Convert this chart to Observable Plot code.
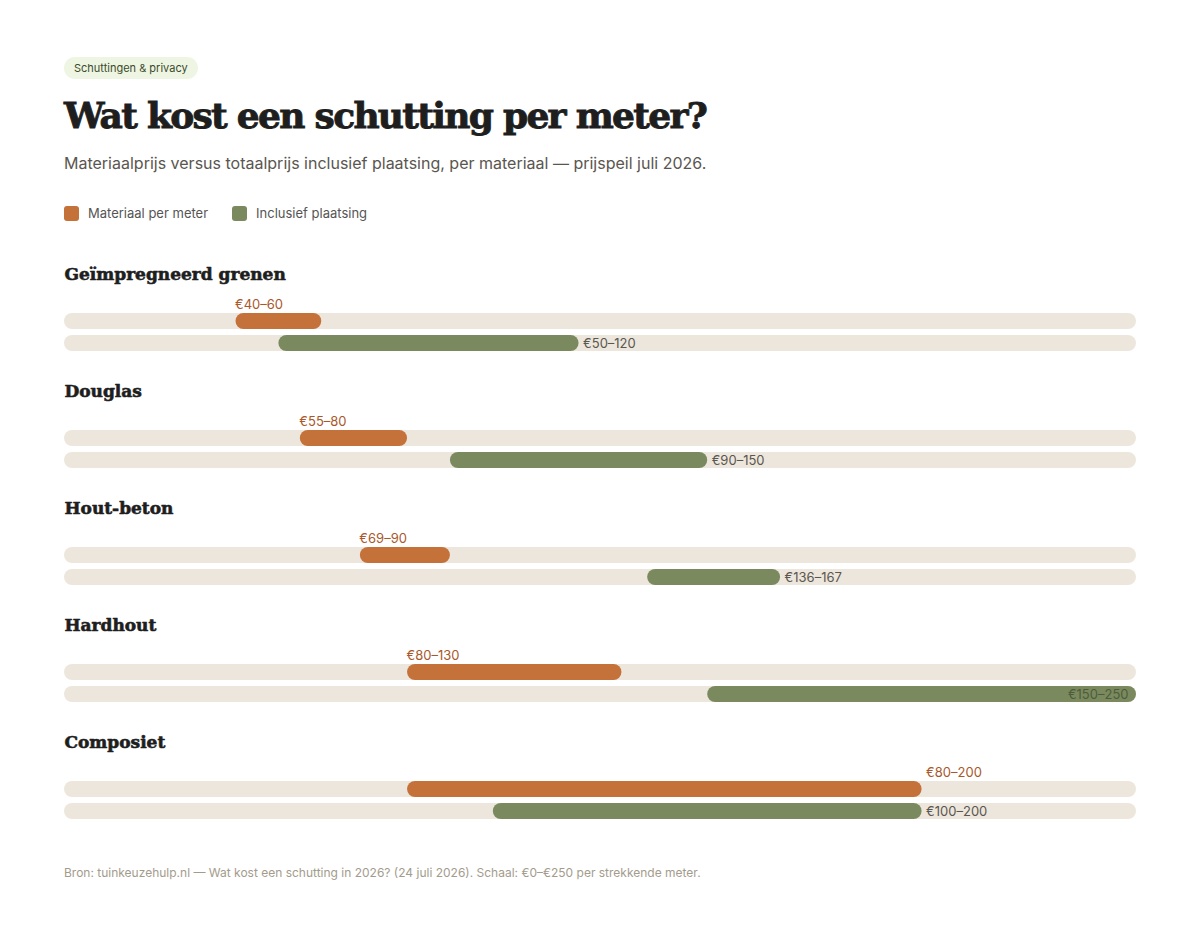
<!DOCTYPE html>
<html><head><meta charset="utf-8">
<script src="https://cdn.jsdelivr.net/npm/d3@7"></script>
<script src="https://cdn.jsdelivr.net/npm/@observablehq/plot@0.6"></script>
<style>
  html,body{margin:0;background:#fff;}
  body{font-family:Inter,"Noto Sans",sans-serif;color:#1e1e1e;width:1200px;}
  .head{padding:56px 64px 0 64px;}
  .pill{display:inline-block;background:#eef6e3;color:#3b4a2c;font-size:11px;line-height:22px;padding:0 10px;border-radius:11px;}
  h1{font-family:"DejaVu Serif",serif;font-weight:bold;font-size:36px;letter-spacing:-1.7px;margin:14px 0 0 0;line-height:44px;color:#1e1e1e;-webkit-text-stroke:0.9px #1e1e1e;}
  .sub{font-size:16px;color:#5a5650;margin-top:16px;}
  .legend{display:flex;gap:24px;margin-top:32px;font-size:13px;color:#555;}
  .legend span{display:flex;align-items:center;gap:9px;}
  .legend i{display:inline-block;width:15px;height:15px;border-radius:3px;}
  #chart{margin-top:35px;}
  .foot{padding:21px 64px 0 64px;font-size:12px;color:#a39c8c;}
</style></head>
<body>
<div class="head">
  <div class="pill">Schuttingen &amp; privacy</div>
  <h1>Wat kost een schutting per meter?</h1>
  <div class="sub">Materiaalprijs versus totaalprijs inclusief plaatsing, per materiaal — prijspeil juli 2026.</div>
  <div class="legend" id="legend"></div>
</div>
<div id="chart"></div>
<div class="foot">Bron: tuinkeuzehulp.nl — Wat kost een schutting in 2026? (24 juli 2026). Schaal: €0–€250 per strekkende meter.</div>
<script>
const materials = ["Geïmpregneerd grenen", "Douglas", "Hout-beton", "Hardhout", "Composiet"];
const series = ["Materiaal per meter", "Inclusief plaatsing"];
const materiaalLo = [40, 55, 69, 80, 80];
const materiaalHi = [60, 80, 90, 130, 200];
const plaatsingLo = [50, 90, 136, 150, 100];
const plaatsingHi = [120, 150, 167, 250, 200];
const scaleDomain = [0, 250];
const colors = ["#c4713a", "#7a8a5e"];
const labelColors = ["#a9582a", "#5a5650"];

const rows = [];
materials.forEach((m, i) => {
  rows.push({material: m, series: series[0], lo: materiaalLo[i], hi: materiaalHi[i]});
  rows.push({material: m, series: series[1], lo: plaatsingLo[i], hi: plaatsingHi[i]});
});
rows.forEach(d => d.label = `€${d.lo}–${d.hi}`);

document.getElementById("legend").innerHTML = series.map((s, i) =>
  `<span><i style="background:${colors[i]}"></i>${s}</span>`).join("");

const isMat = d => d.series === series[0];
const wide = d => d.hi - d.lo > 100;
const atMax = d => d.hi >= scaleDomain[1];

const chart = Plot.plot({
  width: 1200,
  height: 588,
  marginLeft: 64,
  marginRight: 64,
  marginTop: 0,
  marginBottom: 0,
  style: {fontFamily: "Inter, 'Noto Sans', sans-serif", fontSize: "13px", overflow: "visible"},
  x: {domain: scaleDomain, axis: null},
  y: {domain: series, range: [52, 96], paddingInner: 6/22, paddingOuter: 3/22, axis: null},
  fy: {domain: materials, padding: 0, axis: null},
  facet: {data: rows, y: "material", label: null},
  color: {domain: series, range: colors},
  marks: [
    Plot.barX(rows, {x1: scaleDomain[0], x2: scaleDomain[1], y: "series", fill: "#ede6dc", rx: 8}),
    Plot.barX(rows, {x1: "lo", x2: "hi", y: "series", fill: "series", rx: 8}),
    Plot.text(rows, {filter: isMat, frameAnchor: "top-left", text: "material", dy: 16, lineAnchor: "middle",
      textAnchor: "start", fontFamily: "DejaVu Serif, serif", fontWeight: "bold", fontSize: 17, fill: "#1e1e1e", stroke: "#1e1e1e", strokeWidth: 0.6}),
    Plot.text(rows, {filter: d => isMat(d) && !wide(d), x: "lo", y: "series", text: "label", dx: -1, dy: -17,
      textAnchor: "start", lineAnchor: "middle", fill: labelColors[0]}),
    Plot.text(rows, {filter: d => isMat(d) && wide(d), x: "hi", y: "series", text: "label", dx: 4, dy: -17,
      textAnchor: "start", lineAnchor: "middle", fill: labelColors[0]}),
    Plot.text(rows, {filter: d => !isMat(d) && !atMax(d), x: "hi", y: "series", text: "label", dx: 4,
      textAnchor: "start", lineAnchor: "middle", fill: labelColors[1]}),
    Plot.text(rows, {filter: d => !isMat(d) && atMax(d), x: "hi", y: "series", text: "label", dx: -8,
      textAnchor: "end", lineAnchor: "middle", fill: "#4f5c3b"})
  ]
});
document.getElementById("chart").appendChild(chart);
</script>
</body></html>
